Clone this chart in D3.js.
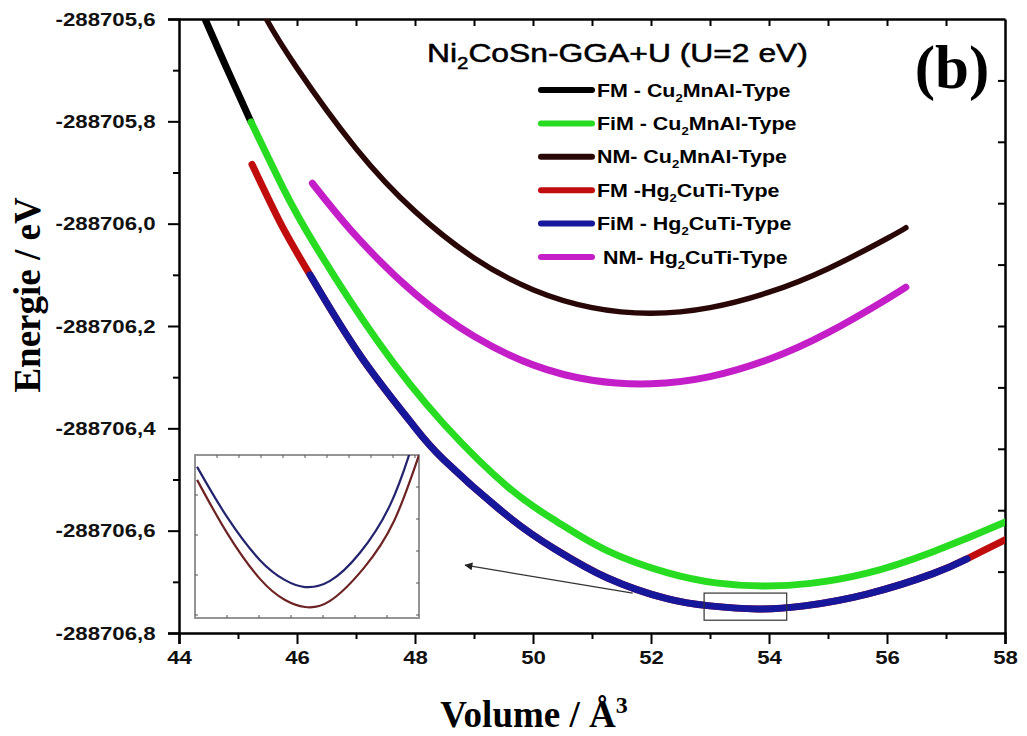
<!DOCTYPE html>
<html>
<head>
<meta charset="utf-8">
<script src="https://cdn.jsdelivr.net/npm/d3@7"></script>
<style>
body { margin: 0; background: #fff; }
svg { display: block; }
</style>
</head>
<body>
<script>
var w = 1027, h = 736;

// axis ticks
var xTicks = [44, 46, 48, 50, 52, 54, 56, 58];
var xMinor = [45, 47, 49, 51, 53, 55, 57];
var yTicks = [-288705.6, -288705.8, -288706.0, -288706.2, -288706.4, -288706.6, -288706.8];
var yMinor = [-288705.7, -288705.9, -288706.1, -288706.3, -288706.5, -288706.7];

// curves: [volume, energy]
var fmCu = [[44.305, -288705.563], [44.441, -288705.600], [44.831, -288705.702], [45.220, -288705.801]];
var fimCu = [[45.220, -288705.801], [45.763, -288705.930], [46.305, -288706.042], [47.356, -288706.228],
  [48.492, -288706.392], [49.610, -288706.518], [50.4, -288706.582], [51.254, -288706.639],
  [52.271, -288706.682], [53.1, -288706.702], [53.9, -288706.708], [54.7, -288706.703],
  [55.661, -288706.683], [56.780, -288706.641], [57.966, -288706.585], [58.085, -288706.577]];
var nmCu = [[45.30, -288705.556], [45.49, -288705.602], [46, -288705.696], [47, -288705.853],
  [48, -288705.976], [49, -288706.067], [50, -288706.129], [51, -288706.164], [52, -288706.175],
  [53, -288706.164], [54, -288706.134], [55, -288706.088], [56, -288706.029], [56.32, -288706.008]];
var fmHg = [[45.237, -288705.884], [45.729, -288706.001], [46.220, -288706.100], [47.068, -288706.257],
  [47.915, -288706.386], [48.492, -288706.462], [49.610, -288706.575], [50.4, -288706.638],
  [51.254, -288706.692], [52.271, -288706.733], [53.0, -288706.747], [53.8, -288706.753],
  [54.6, -288706.747], [55.661, -288706.724], [56.780, -288706.684], [57.356, -288706.655],
  [57.966, -288706.620], [58.085, -288706.612]];
var fimHg = [[46.220, -288706.100], [47.068, -288706.257], [47.915, -288706.386], [48.492, -288706.462],
  [49.610, -288706.575], [50.4, -288706.638], [51.254, -288706.692], [52.271, -288706.733],
  [53.0, -288706.747], [53.8, -288706.753], [54.6, -288706.747], [55.661, -288706.724],
  [56.780, -288706.684], [57.356, -288706.655]];
var nmHg = [[46.26, -288705.921], [47, -288706.024], [48, -288706.137], [49, -288706.220],
  [50, -288706.276], [51, -288706.306], [52, -288706.313], [53, -288706.299], [54, -288706.265],
  [55, -288706.213], [56, -288706.147], [56.32, -288706.124]];

// inset (zoom on the minimum of the Hg2CuTi-type curves)
var insetFim = [[52.913, -288706.75229], [53.100, -288706.75352], [53.306, -288706.75458], [53.463, -288706.75507],
  [53.588, -288706.75524], [53.744, -288706.75509], [53.931, -288706.75440], [54.119, -288706.75323],
  [54.238, -288706.75200], [54.269, -288706.75163]];
var insetFm = [[52.913, -288706.75261], [53.100, -288706.75391], [53.306, -288706.75504], [53.463, -288706.75556],
  [53.588, -288706.75573], [53.744, -288706.75558], [53.956, -288706.75477], [54.144, -288706.75362],
  [54.300, -288706.75200]];
var zoomBox = [52.9, 54.3, -288706.722, -288706.775];
var arrowFrom = [51.69, -288706.7222], arrowTo = [48.85, -288706.6675];

// legend
var legendNames = [["FM - Cu", "2", "MnAl-Type"], ["FiM - Cu", "2", "MnAl-Type"], ["NM- Cu", "2", "MnAl-Type"],
  ["FM -Hg", "2", "CuTi-Type"], ["FiM - Hg", "2", "CuTi-Type"], ["\u00a0NM- Hg", "2", "CuTi-Type"]];
var legendColors = ["#000000", "#28dc22", "#2a0707", "#c00c0c", "#17179c", "#c41ec8"];

var svg = d3.select("body").append("svg")
  .attr("width", w)
  .attr("height", h)

var pl = 179, pr = 1005, pt = 19, pb = 633;

var x = d3.scaleLinear().domain([44, 58]).range([pl, pr]);
var y = d3.scaleLinear().domain([-288706.8, -288705.6]).range([pb, pt]);

svg.append("clipPath").attr("id", "plot")
  .append("rect").attr("x", pl).attr("y", pt).attr("width", pr - pl).attr("height", pb - pt);

var fmt = function(d) { return d.toFixed(1).replace(".", ","); };
var sans = "'Liberation Sans', Arial, sans-serif";
var serif = "'Liberation Serif', 'Times New Roman', serif";

// left axis
svg.append("g").attr("transform", "translate(" + pl + ",0)")
  .call(d3.axisLeft(y).tickValues(yTicks).tickFormat(fmt).tickSize(11).tickPadding(9));
svg.append("g").attr("transform", "translate(" + pl + ",0)")
  .call(d3.axisLeft(y).tickValues(yMinor).tickFormat("").tickSize(6))
  .select(".domain").remove();

// bottom axis
svg.append("g").attr("transform", "translate(0," + pb + ")")
  .call(d3.axisBottom(x).tickValues(xTicks).tickFormat(d3.format("d")).tickSize(11).tickPadding(7));
svg.append("g").attr("transform", "translate(0," + pb + ")")
  .call(d3.axisBottom(x).tickValues(xMinor).tickFormat("").tickSize(6))
  .select(".domain").remove();

// top axis (ticks inside)
svg.append("g").attr("transform", "translate(0," + pt + ")")
  .call(d3.axisTop(x).tickValues(d3.range(45, 58)).tickFormat("").tickSizeInner(-7).tickSizeOuter(0));

// right axis (ticks inside)
var yr = d3.scaleLinear().domain([0, 10]).range([pb, pt]);
svg.append("g").attr("transform", "translate(" + pr + ",0)")
  .call(d3.axisRight(yr).tickValues(d3.range(1, 10)).tickFormat("").tickSizeInner(-7).tickSizeOuter(0));

svg.selectAll(".domain").attr("stroke", "#000").attr("stroke-width", 2.5);
svg.selectAll(".tick line").attr("stroke", "#000").attr("stroke-width", 2);
svg.selectAll(".tick text")
  .attr("font-family", sans)
  .attr("font-weight", "bold")
  .attr("font-size", 19)
  .attr("fill", "#111")
  .attr("transform", "scale(1.17,1)");

// axis titles
svg.append("text")
  .attr("transform", "translate(40,295) rotate(-90)")
  .attr("text-anchor", "middle")
  .attr("font-family", serif)
  .attr("font-weight", "bold")
  .attr("font-size", 37)
  .text("Energie / eV");

var xt = svg.append("text")
  .attr("x", 534).attr("y", 727)
  .attr("text-anchor", "middle")
  .attr("font-family", serif)
  .attr("font-weight", "bold")
  .attr("font-size", 37)
  .text("Volume / Å");
xt.append("tspan").attr("dy", -14).attr("font-size", 24).text("3");

// curves
var line = d3.line()
  .x(function(d) { return x(d[0]); })
  .y(function(d) { return y(d[1]); })
  .curve(d3.curveNatural);

var curves = svg.append("g").attr("clip-path", "url(#plot)");

var series = [
  { data: nmCu, color: legendColors[2], width: 5.5 },
  { data: nmHg, color: legendColors[5], width: 7 },
  { data: fmCu, color: legendColors[0], width: 7 },
  { data: fimCu, color: legendColors[1], width: 7 },
  { data: fmHg, color: legendColors[3], width: 7 },
  { data: fimHg, color: legendColors[4], width: 7 }
];

curves.selectAll("path")
  .data(series)
  .enter()
  .append("path")
  .attr("d", function(d) { return line(d.data); })
  .attr("fill", "none")
  .attr("stroke", function(d) { return d.color; })
  .attr("stroke-width", function(d) { return d.width; })
  .attr("stroke-linecap", "round");

// zoom box + arrow
svg.append("rect")
  .attr("x", x(zoomBox[0])).attr("y", y(zoomBox[2]))
  .attr("width", x(zoomBox[1]) - x(zoomBox[0]))
  .attr("height", y(zoomBox[3]) - y(zoomBox[2]))
  .attr("fill", "none").attr("stroke", "#333").attr("stroke-width", 1.2);

svg.append("defs").append("marker")
  .attr("id", "arrow")
  .attr("viewBox", "0 0 10 10")
  .attr("refX", 9).attr("refY", 5)
  .attr("markerWidth", 12).attr("markerHeight", 8)
  .attr("markerUnits", "userSpaceOnUse")
  .attr("orient", "auto")
  .append("path").attr("d", "M0,0L10,5L0,10Z").attr("fill", "#222");

svg.append("line")
  .attr("x1", x(arrowFrom[0])).attr("y1", y(arrowFrom[1]))
  .attr("x2", x(arrowTo[0])).attr("y2", y(arrowTo[1]))
  .attr("stroke", "#333").attr("stroke-width", 1.2)
  .attr("marker-end", "url(#arrow)");

// inset
var il = 195, ir = 419, it = 455, ib = 618;
var ix = d3.scaleLinear().domain([52.9, 54.3]).range([il, ir]);
var iy = d3.scaleLinear().domain([-288706.7560, -288706.7520]).range([ib, it]);
var inset = svg.append("g");
inset.append("clipPath").attr("id", "insetclip")
  .append("rect").attr("x", il).attr("y", it).attr("width", ir - il).attr("height", ib - it);
inset.append("rect")
  .attr("x", il).attr("y", it).attr("width", ir - il).attr("height", ib - it)
  .attr("fill", "#fff").attr("stroke", "#8a8a8a").attr("stroke-width", 1.8);

var ticksTop = d3.range(il + 22, ir, 22), ticksBot = d3.range(il + 32, ir, 32);
var ticksLeft = d3.range(it + 40, ib, 40), ticksRight = d3.range(it + 32, ib, 32);
inset.selectAll(".tt").data(ticksTop).enter().append("line")
  .attr("x1", function(d) { return d; }).attr("x2", function(d) { return d; })
  .attr("y1", it).attr("y2", it + 3).attr("stroke", "#555");
inset.selectAll(".tb").data(ticksBot).enter().append("line")
  .attr("x1", function(d) { return d; }).attr("x2", function(d) { return d; })
  .attr("y1", ib).attr("y2", ib - 3).attr("stroke", "#555");
inset.selectAll(".tl").data(ticksLeft).enter().append("line")
  .attr("y1", function(d) { return d; }).attr("y2", function(d) { return d; })
  .attr("x1", il).attr("x2", il + 3).attr("stroke", "#555");
inset.selectAll(".tr").data(ticksRight).enter().append("line")
  .attr("y1", function(d) { return d; }).attr("y2", function(d) { return d; })
  .attr("x1", ir).attr("x2", ir - 3).attr("stroke", "#555");

var iline = d3.line()
  .x(function(d) { return ix(d[0]); })
  .y(function(d) { return iy(d[1]); })
  .curve(d3.curveNatural);
var ic = inset.append("g").attr("clip-path", "url(#insetclip)");
ic.append("path").attr("d", iline(insetFim)).attr("fill", "none")
  .attr("stroke", "#23236e").attr("stroke-width", 2.2);
ic.append("path").attr("d", iline(insetFm)).attr("fill", "none")
  .attr("stroke", "#6e2323").attr("stroke-width", 2.2);

// title + legend
var title = svg.append("text")
  .attr("font-family", sans)
  .attr("font-size", 25)
  .attr("stroke", "#000").attr("stroke-width", 0.5)
  .text("Ni");
title.append("tspan").attr("dy", 7).attr("font-size", 16).text("2");
title.append("tspan").attr("dy", -7).text("CoSn-GGA+U (U=2 eV)");
var tw = title.node().getComputedTextLength();
title.attr("transform", "translate(427,62) scale(" + (381 / tw) + ",1)");

var legend = svg.append("g");
var rows = legend.selectAll("g")
  .data(legendNames)
  .enter()
  .append("g")
  .attr("transform", function(d, i) { return "translate(0," + (90 + i * 33.4) + ")"; });
rows.append("line")
  .attr("x1", 541).attr("x2", 592)
  .attr("stroke", function(d, i) { return legendColors[i]; })
  .attr("stroke-width", 6)
  .attr("stroke-linecap", "round");
var lt = rows.append("text")
  .attr("transform", "translate(597,6.5) scale(1.19,1)")
  .attr("font-family", sans)
  .attr("font-weight", "bold")
  .attr("font-size", 18);
lt.append("tspan").text(function(d) { return d[0]; });
lt.append("tspan").attr("dy", 5).attr("font-size", 11).text(function(d) { return d[1]; });
lt.append("tspan").attr("dy", -5).text(function(d) { return d[2]; });

svg.append("text")
  .attr("x", 952).attr("y", 88)
  .attr("text-anchor", "middle")
  .attr("font-family", serif)
  .attr("font-weight", "bold")
  .attr("font-size", 61)
  .text("(b)");
</script>
</body>
</html>
